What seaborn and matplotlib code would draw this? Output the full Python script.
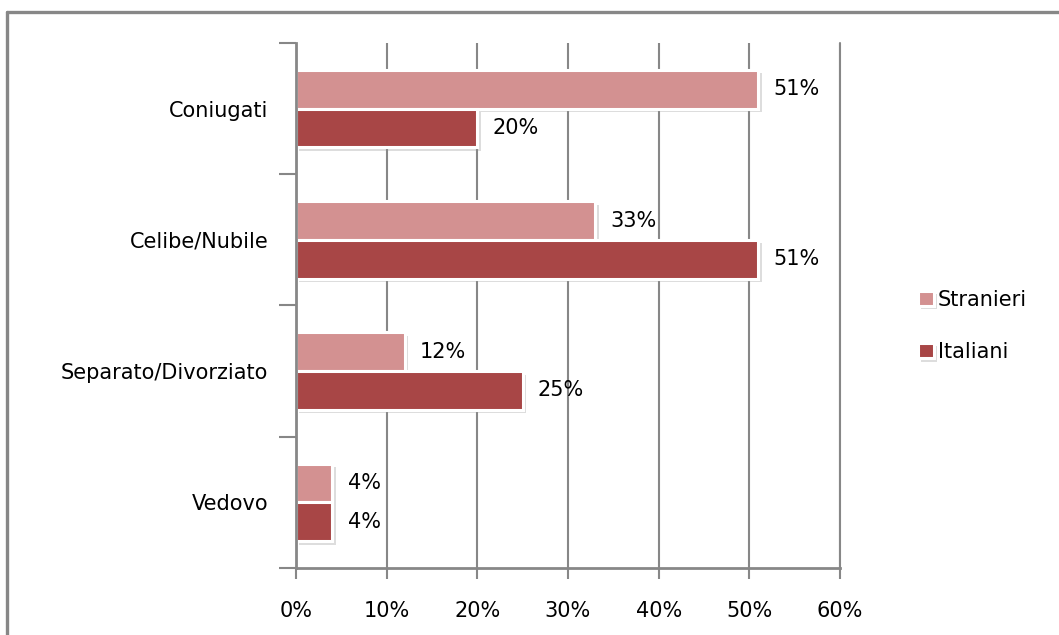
import matplotlib
matplotlib.use("Agg")
import matplotlib.pyplot as plt
import matplotlib.patheffects as pe
from matplotlib.lines import Line2D
from matplotlib.ticker import FixedLocator
import pandas as pd
import seaborn as sns

# Stato civile: quote percentuali per gruppo
categorie = ["Coniugati", "Celibe/Nubile", "Separato/Divorziato", "Vedovo"]
stranieri = [51, 33, 12, 4]
italiani = [20, 51, 25, 4]
gruppi = ["Stranieri", "Italiani"]
colori = ["#D39191", "#A84646"]
tick_x = [0, 10, 20, 30, 40, 50, 60]
tick_x_labels = ["0%", "10%", "20%", "30%", "40%", "50%", "60%"]

df = pd.DataFrame({
    "stato": categorie * 2,
    "valore": stranieri + italiani,
    "gruppo": [gruppi[0]] * len(categorie) + [gruppi[1]] * len(categorie),
})

sns.set_theme(style="white")
plt.rcParams["font.family"] = ["DejaVu Sans"]

fig = plt.figure(figsize=(10.59, 6.35), dpi=100)
ax = fig.add_axes([0.2795, 0.1055, 0.5137, 0.8268])

sns.barplot(data=df, y="stato", x="valore", hue="gruppo", orient="h",
            order=categorie, hue_order=gruppi, palette=colori, saturation=1,
            width=0.59, edgecolor="white", linewidth=2.2, ax=ax)

shadow = [pe.SimplePatchShadow(offset=(2.5, -2.5), shadow_rgbFace="#909090", alpha=0.3),
          pe.Normal()]
for patch in ax.patches:
    patch.set_path_effects(shadow)

for cont in ax.containers:
    ax.bar_label(cont, labels=[f"{v:.0f}%" for v in cont.datavalues],
                 padding=11, fontsize=15, color="black")

# Axis scales and ticks
ax.set_xlim(0, 60)
ax.set_ylim(len(categorie) - 0.5, -0.5)
ax.set_xticks(tick_x)
ax.set_xticklabels(tick_x_labels, fontsize=15, color="black")
ax.tick_params(axis="x", length=8, width=1.5, color="#878787", pad=16, bottom=True)
ax.tick_params(axis="y", which="major", length=0, pad=20, labelsize=15, labelcolor="black")
ax.yaxis.set_minor_locator(FixedLocator([-0.5, 0.5, 1.5, 2.5, 3.5]))
ax.tick_params(axis="y", which="minor", length=12, width=1.5, color="#878787", left=True)
ax.set_xlabel("")
ax.set_ylabel("")

ax.grid(axis="x", color="#878787", linewidth=1.5)
ax.axvline(tick_x[-1], color="#878787", linewidth=1.5, clip_on=False, zorder=0)
ax.set_axisbelow(True)
for side in ["top", "right"]:
    ax.spines[side].set_visible(False)
for side in ["left", "bottom"]:
    ax.spines[side].set_color("#878787")
    ax.spines[side].set_linewidth(2)

# Legend on the right
handles, labels = ax.get_legend_handles_labels()
ax.legend(handles, labels, loc="center left", bbox_to_anchor=(0.8590, 0.487),
          bbox_transform=fig.transFigure, frameon=False, fontsize=15,
          labelcolor="black", handlelength=0.75, handleheight=0.75,
          handletextpad=0.2, labelspacing=1.55, borderaxespad=0)

# Outer chart frame
fig.add_artist(Line2D([0.0062, 0.0062], [0.0, 0.981], transform=fig.transFigure,
                      color="#878787", linewidth=2.4))
fig.add_artist(Line2D([0.0062, 1.0], [0.981, 0.981], transform=fig.transFigure,
                      color="#878787", linewidth=2.4))

fig.savefig("out.png", dpi=100, facecolor="white")
